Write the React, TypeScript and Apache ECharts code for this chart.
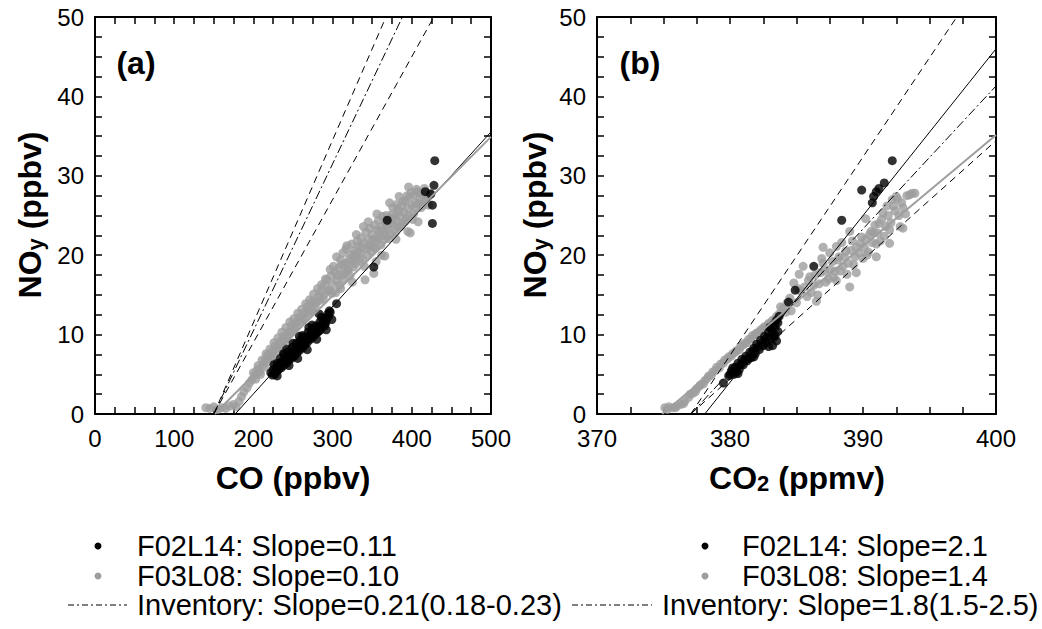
import { useEffect, useRef } from 'react';
import * as echarts from 'echarts';

// ---------- data ----------
// Panel (a): NOy (ppbv) vs CO (ppbv)
const grayA: [number, number][] = [
  [140, 0.8], [145, 0.7], [150, 0.9], [155, 0.6], [160, 0.8], [165, 0.7], [170, 1.0], [175, 1.2], [178, 0.9],
  [182, 1.6], [185, 2.2], [188, 2.8], [192, 3.3], [195, 3.9], [198, 4.3], [202, 4.9], [205, 5.6], [208, 5.3],
  [212, 6.2], [215, 6.8], [218, 7.4], [222, 7.1], [225, 8.0], [228, 8.6], [232, 8.4], [235, 9.2], [238, 9.8],
  [242, 9.5], [245, 10.4], [248, 11.1], [252, 10.8], [255, 11.6], [258, 12.2], [262, 11.9], [265, 12.8],
  [268, 13.5], [272, 12.9], [275, 14.2], [278, 13.6], [282, 14.8], [285, 15.4], [288, 14.5], [290, 16.2],
  [293, 16.9], [296, 15.6], [298, 17.4], [300, 16.3], [303, 17.9], [305, 16.8], [308, 18.4], [310, 19.4],
  [312, 17.5], [315, 18.9], [318, 19.0], [320, 18.2], [323, 20.1], [325, 19.3], [328, 20.6], [330, 19.8],
  [333, 21.2], [335, 20.3], [339, 23.6], [340, 21.5], [341, 16.9], [343, 20.8], [345, 22.0], [348, 21.3],
  [350, 22.6], [352, 17.7], [352, 21.0], [355, 22.1], [357, 23.2], [360, 22.4], [362, 23.6], [365, 22.0],
  [367, 24.1], [370, 23.3], [372, 24.6], [373, 22.7], [375, 25.1], [377, 23.8], [380, 24.5], [382, 25.8],
  [383, 23.5], [385, 24.9], [387, 26.2], [388, 24.0], [390, 25.4], [392, 26.8], [393, 24.6], [395, 25.9],
  [397, 27.3], [398, 22.8], [400, 26.3], [402, 25.2], [403, 27.6], [405, 26.6], [407, 28.0], [410, 27.1],
  [412, 26.0], [415, 27.5], [418, 26.8], [423, 27.8],
  [200, 5.2], [203, 4.4], [206, 6.1], [209, 5.0], [211, 6.8], [214, 5.9], [216, 7.6], [219, 6.6], [221, 8.2],
  [224, 7.3], [226, 9.0], [229, 7.9], [231, 9.6], [234, 8.6], [236, 10.3], [239, 9.2], [241, 10.9], [244, 9.9],
  [246, 11.6], [249, 10.4], [251, 12.0], [254, 11.0], [256, 12.7], [259, 11.6], [261, 13.2], [264, 12.1],
  [266, 13.9], [269, 12.6], [271, 14.4], [274, 13.2], [276, 15.1], [279, 14.0], [281, 15.8], [284, 14.3],
  [286, 16.3], [289, 15.0], [291, 17.0], [294, 15.5], [297, 18.2], [299, 15.2],
  [301, 18.6], [304, 15.3], [306, 17.4], [309, 16.2], [311, 18.8], [313, 20.3], [314, 16.9], [316, 17.8],
  [317, 20.8], [319, 18.1], [321, 19.5], [322, 17.4], [324, 21.4], [326, 18.5], [327, 20.0], [329, 18.9],
  [331, 21.8], [332, 20.4], [334, 19.3], [336, 22.2], [337, 21.0], [338, 19.5], [342, 22.9], [344, 20.0],
  [346, 21.1], [347, 23.4], [349, 20.5], [351, 22.0], [353, 23.8], [354, 20.9], [356, 21.7], [358, 24.4],
  [359, 22.9], [361, 21.3], [363, 24.9], [364, 23.1], [366, 22.5], [368, 25.0], [369, 23.8], [371, 22.1],
  [374, 24.0], [376, 26.0], [378, 24.8], [379, 22.9], [381, 26.4], [384, 25.5], [386, 23.6], [389, 26.8],
  [391, 24.2], [394, 27.5], [396, 25.0], [399, 27.9], [401, 24.5], [404, 26.0], [406, 28.3], [409, 26.5],
  [411, 27.8], [414, 26.3], [416, 28.4], [420, 27.2], [421, 26.3],
  [305, 19.8], [318, 21.2], [330, 22.6], [345, 24.2], [356, 25.2], [362, 20.0], [372, 26.6], [384, 27.4],
  [396, 28.6], [408, 24.2], [395, 23.0], [380, 22.0], [366, 19.9], [340, 18.6], [325, 16.6], [310, 15.8],
  [355, 19.2],
];
const blackA: [number, number][] = [
  [222, 5.2], [225, 5.6], [227, 5.0], [229, 5.9], [231, 5.5], [233, 6.3], [235, 5.8], [236, 6.6], [238, 6.1],
  [240, 6.9], [242, 6.4], [243, 7.2], [245, 6.8], [247, 7.5], [248, 7.0], [250, 7.8], [252, 7.3], [253, 8.1],
  [255, 7.7], [257, 8.4], [258, 8.0], [260, 8.8], [262, 8.3], [263, 9.1], [265, 8.7], [267, 9.4], [268, 9.0],
  [270, 9.8], [272, 9.4], [273, 10.2], [275, 9.7], [277, 10.5], [278, 10.0], [280, 10.8], [282, 10.4],
  [283, 11.0], [285, 10.6], [288, 11.5], [290, 11.1], [292, 11.8], [295, 12.3],
  [224, 4.9], [226, 6.2], [228, 5.3], [230, 6.4], [232, 5.7], [234, 7.0], [237, 6.5], [239, 7.5], [241, 6.7],
  [244, 7.9], [246, 7.2], [249, 8.4], [251, 7.6], [254, 8.9], [256, 8.2], [259, 9.3], [261, 8.6], [264, 9.7],
  [266, 9.1], [269, 10.3], [271, 9.5], [274, 10.7], [276, 10.1], [279, 11.1], [281, 10.3], [284, 11.6],
  [286, 11.0], [289, 12.0], [291, 11.4], [294, 12.6], [297, 12.8], [299, 11.9],
  [230, 4.8], [238, 7.6], [245, 6.1], [250, 8.9], [256, 7.0], [262, 9.9], [268, 8.1], [274, 11.2], [280, 9.4],
  [286, 12.2], [292, 10.6], [296, 13.0], [242, 8.2], [258, 9.8], [270, 10.9], [283, 12.6],
  [305, 13.9], [352, 18.5], [369, 24.4], [417, 28.0], [424, 27.7], [429, 31.9], [428, 28.8], [426, 26.3],
  [426, 24.0],
];
// fits: slope and x-intercept
const fitSlopesA = [0.11, 0.10];
const fitX0A = [177, 151];
const invSlopesA = [0.21, 0.18, 0.23];
const invX0A = 150;

// Panel (b): NOy (ppbv) vs CO2 (ppmv)
const grayB: [number, number][] = [
  [375.1, 0.8], [375.4, 0.9], [375.7, 0.8], [376.0, 1.0], [376.3, 1.2], [376.6, 1.6], [376.9, 2.1], [377.2, 2.6],
  [377.5, 3.2], [377.8, 3.7], [378.1, 4.2], [378.4, 4.8], [378.7, 5.3], [379.0, 5.9], [379.3, 6.3], [379.6, 6.8],
  [379.9, 7.2], [380.2, 7.6], [380.5, 8.0], [380.8, 8.5], [381.1, 8.9], [381.4, 9.4], [381.7, 9.9], [382.0, 10.2],
  [382.3, 10.6], [382.6, 11.0], [382.9, 11.4], [383.2, 11.8], [383.5, 12.3], [383.8, 13.5], [384.2, 12.8],
  [384.5, 14.6], [384.8, 16.5], [385.0, 14.0], [385.3, 15.5], [385.5, 18.6], [385.8, 14.8], [386.0, 17.3],
  [386.3, 16.2], [386.6, 15.0], [386.8, 17.8], [387.0, 19.0], [387.2, 16.6], [387.5, 18.2], [387.8, 17.2],
  [388.0, 21.1], [388.1, 19.4], [388.3, 18.0], [388.6, 19.8], [388.8, 17.6], [389.0, 16.0], [389.1, 20.6],
  [389.3, 18.8], [389.5, 21.0], [389.8, 21.5], [390.0, 19.6], [390.2, 22.0], [390.4, 20.4], [390.6, 23.0],
  [390.8, 22.8], [391.0, 21.4], [391.2, 24.0], [391.5, 25.3], [391.6, 22.4], [391.8, 26.2], [392.0, 23.2],
  [392.2, 27.0], [392.5, 27.4], [392.7, 25.0], [392.8, 23.6], [393.0, 26.0], [393.5, 27.6], [393.9, 27.8],
  [375.3, 0.6], [375.9, 0.8], [376.5, 1.3], [377.0, 2.5], [377.4, 2.8], [377.7, 3.5], [378.0, 3.8], [378.3, 4.5],
  [378.6, 4.9], [378.9, 5.5], [379.2, 5.8], [379.5, 6.4], [379.8, 6.9], [380.1, 7.3], [380.4, 7.8], [380.7, 8.1],
  [381.0, 8.7], [381.3, 9.0], [381.6, 9.5], [381.9, 10.0], [382.2, 10.3], [382.5, 10.8], [382.8, 11.1],
  [383.1, 11.5], [383.4, 11.9], [383.7, 12.6], [384.0, 13.3], [384.3, 14.0], [384.6, 13.0], [385.1, 15.8],
  [385.6, 16.0], [385.9, 16.8], [386.1, 15.3], [386.4, 17.5], [386.7, 16.4], [387.1, 18.0], [387.4, 17.0],
  [387.7, 19.2], [387.9, 18.0], [388.2, 19.8], [388.5, 18.6], [388.7, 20.5], [388.9, 19.0], [389.2, 21.8],
  [389.4, 19.8], [389.7, 20.3], [389.9, 22.3], [390.1, 21.0], [390.3, 20.0], [390.5, 22.6], [390.7, 21.6],
  [390.9, 23.8], [391.1, 22.8], [391.3, 21.8], [391.4, 24.5], [391.7, 23.6], [391.9, 25.0], [392.1, 24.1],
  [392.3, 26.2], [392.4, 25.6], [392.6, 27.1], [392.9, 26.6], [393.2, 25.2], [393.3, 27.5], [393.7, 27.8],
  [388.4, 21.6], [387.5, 20.3], [386.9, 19.6],
  [386.5, 14.2], [388.0, 16.8], [389.5, 17.8], [391.0, 19.8], [392.0, 21.5], [393.0, 23.4], [387.0, 21.0],
  [389.0, 23.0], [390.2, 24.6], [385.2, 17.6],
];
const blackB: [number, number][] = [
  [379.5, 3.9], [379.9, 4.8], [380.1, 5.4], [380.3, 5.0], [380.4, 5.9], [380.6, 6.4], [380.7, 5.6], [380.9, 6.9],
  [381.0, 6.2], [381.2, 7.3], [381.3, 6.7], [381.5, 7.8], [381.6, 7.1], [381.8, 8.3], [381.9, 7.6], [382.0, 8.8],
  [382.2, 8.1], [382.3, 9.3], [382.5, 8.6], [382.6, 9.8], [382.7, 9.0], [382.9, 10.3], [383.0, 9.4], [383.1, 10.8],
  [383.2, 8.6], [383.3, 11.3], [383.4, 9.9], [383.5, 11.8], [383.6, 10.4], [383.7, 12.3],
  [380.0, 5.0], [380.2, 5.8], [380.5, 5.3], [380.8, 6.2], [381.1, 6.8], [381.4, 7.0], [381.7, 7.9], [382.1, 8.4],
  [382.4, 8.9], [382.8, 9.6], [383.0, 10.9], [383.2, 10.2], [383.4, 11.0], [383.5, 9.2], [383.6, 11.5],
  [382.9, 8.5], [383.3, 9.7], [381.8, 7.2], [380.6, 5.1],
  [384.4, 14.1], [384.9, 15.6], [386.3, 18.6], [388.4, 24.4], [389.9, 28.2], [390.7, 26.6], [390.8, 27.4],
  [391.0, 28.0], [391.2, 28.4], [391.6, 29.1], [392.2, 31.9],
];
const fitSlopesB = [2.1, 1.4];
const fitX0B = [378.1, 374.9];
const invSlopesB = [1.8, 1.5, 2.5];
const invX0B = 377.05;

// axes
const xRangeA = [0, 500];
const xRangeB = [370, 400];
const yRange = [0, 50];

const legendA = ['F02L14: Slope=0.11', 'F03L08: Slope=0.10', 'Inventory: Slope=0.21(0.18-0.23)'];
const legendB = ['F02L14: Slope=2.1', 'F03L08: Slope=1.4', 'Inventory: Slope=1.8(1.5-2.5)'];

const GRAY = '#9e9e9e';
const FONT = '"Liberation Sans", Arial, Helvetica, sans-serif';

function lineEnds(slope: number, x0: number, xMax: number, yMax: number): [number, number][] {
  const xEnd = Math.min(xMax, x0 + yMax / slope);
  return [[x0, 0], [xEnd, slope * (xEnd - x0)]];
}

function makeAxis(gridIndex: number, min: number, max: number, interval: number, position: string, labels: boolean, labelMargin: number) {
  return {
    type: 'value',
    gridIndex,
    min,
    max,
    interval,
    position,
    axisLine: { show: true, onZero: false, lineStyle: { color: '#000', width: 2 } },
    axisTick: { show: true, inside: true, length: 7, lineStyle: { color: '#000', width: 1.5 } },
    minorTick: { show: true, splitNumber: 4, length: 7, lineStyle: { color: '#000', width: 1.5 } },
    splitLine: { show: false },
    minorSplitLine: { show: false },
    axisLabel: {
      show: labels,
      fontSize: 24,
      color: '#000',
      fontFamily: FONT,
      margin: labelMargin,
      showMinLabel: true,
      showMaxLabel: true,
    },
  };
}

function lineSeries(xi: number, yi: number, data: [number, number][], color: string, width: number, type: any) {
  return {
    type: 'line',
    xAxisIndex: xi,
    yAxisIndex: yi,
    data,
    showSymbol: false,
    symbol: 'none',
    silent: true,
    z: 5,
    lineStyle: { color, width, type },
  };
}

const DASH = [7, 5];
const DASHDOT = [9, 3, 2, 3];

export default function App() {
  const ref = useRef<HTMLDivElement>(null);

  useEffect(() => {
    if (!ref.current) return;
    const chart = echarts.init(ref.current, null, { renderer: 'svg' });

    const series: any[] = [];
    const panels = [
      { xi: 0, yi: 0, gray: grayA, black: blackA, fs: fitSlopesA, fx: fitX0A, is: invSlopesA, ix: invX0A, xr: xRangeA },
      { xi: 2, yi: 2, gray: grayB, black: blackB, fs: fitSlopesB, fx: fitX0B, is: invSlopesB, ix: invX0B, xr: xRangeB },
    ];
    panels.forEach((p) => {
      series.push({
        type: 'scatter', xAxisIndex: p.xi, yAxisIndex: p.yi, data: p.gray, symbolSize: 9,
        itemStyle: { color: GRAY }, z: 2, silent: true,
      });
      series.push({
        type: 'scatter', xAxisIndex: p.xi, yAxisIndex: p.yi, data: p.black, symbolSize: 9,
        itemStyle: { color: '#000' }, z: 3, silent: true,
      });
      series.push(lineSeries(p.xi, p.yi, lineEnds(p.fs[0], p.fx[0], p.xr[1], yRange[1]), '#000', 1, 'solid'));
      series.push(lineSeries(p.xi, p.yi, lineEnds(p.fs[1], p.fx[1], p.xr[1], yRange[1]), GRAY, 2, 'solid'));
      series.push(lineSeries(p.xi, p.yi, lineEnds(p.is[0], p.ix, p.xr[1], yRange[1]), '#000', 1, DASHDOT));
      series.push(lineSeries(p.xi, p.yi, lineEnds(p.is[1], p.ix, p.xr[1], yRange[1]), '#000', 1, DASH));
      series.push(lineSeries(p.xi, p.yi, lineEnds(p.is[2], p.ix, p.xr[1], yRange[1]), '#000', 1, DASH));
    });

    const titleStyle = { fontSize: 32, fontWeight: 'bold', fontFamily: FONT, fill: '#000', lineHeight: 32, verticalAlign: 'bottom' };
    const subStyle = { fontSize: 22, fontWeight: 'bold', fontFamily: FONT, fill: '#000', lineHeight: 4, verticalAlign: 'bottom' };

    const axisTitle = (x: number, y: number, text: string, rot: number) => ({
      type: 'text',
      x,
      y,
      rotation: rot,
      style: {
        text,
        align: 'center',
        verticalAlign: 'middle',
        rich: { m: titleStyle, s: subStyle },
      },
    });

    const rows = [546, 576, 605];
    const legendCol = (dotX: number, textX: number, invTextX: number, lineX0: number, lineX1: number, texts: string[]) => {
      const els: any[] = [
        { type: 'circle', shape: { cx: dotX, cy: rows[0], r: 3.5 }, style: { fill: '#000' } },
        { type: 'circle', shape: { cx: dotX, cy: rows[1], r: 3.5 }, style: { fill: GRAY } },
        {
          type: 'line', shape: { x1: lineX0, y1: rows[2], x2: lineX1, y2: rows[2] },
          style: { stroke: '#000', lineWidth: 1, lineDash: [6, 3, 2, 3] },
        },
      ];
      texts.forEach((t, i) => {
        els.push({
          type: 'text', x: i === 2 ? invTextX : textX, y: rows[i],
          style: { text: t, fontSize: 29, fontFamily: FONT, fill: '#000', align: 'left', verticalAlign: 'middle' },
        });
      });
      return els;
    };

    const option: any = {
      animation: false,
      backgroundColor: '#fff',
      grid: [
        { left: 95, top: 17, width: 396, height: 397 },
        { left: 597, top: 17, width: 399, height: 397 },
      ],
      xAxis: [
        makeAxis(0, xRangeA[0], xRangeA[1], 100, 'bottom', true, 12),
        makeAxis(0, xRangeA[0], xRangeA[1], 100, 'top', false, 8),
        makeAxis(1, xRangeB[0], xRangeB[1], 10, 'bottom', true, 12),
        makeAxis(1, xRangeB[0], xRangeB[1], 10, 'top', false, 8),
      ],
      yAxis: [
        makeAxis(0, yRange[0], yRange[1], 10, 'left', true, 11),
        makeAxis(0, yRange[0], yRange[1], 10, 'right', false, 8),
        makeAxis(1, yRange[0], yRange[1], 10, 'left', true, 11),
        makeAxis(1, yRange[0], yRange[1], 10, 'right', false, 8),
      ],
      series,
      graphic: [
        axisTitle(293, 478, '{m|CO (ppbv)}', 0),
        axisTitle(797, 478, '{m|CO}{s|2}{m| (ppmv)}', 0),
        axisTitle(30, 215, '{m|NO}{s|y}{m| (ppbv)}', Math.PI / 2),
        axisTitle(535, 215, '{m|NO}{s|y}{m| (ppbv)}', Math.PI / 2),
        {
          type: 'text', x: 136, y: 63,
          style: { text: '(a)', fontSize: 32, fontWeight: 'bold', fontFamily: FONT, fill: '#000', align: 'center', verticalAlign: 'middle' },
        },
        {
          type: 'text', x: 640, y: 63,
          style: { text: '(b)', fontSize: 32, fontWeight: 'bold', fontFamily: FONT, fill: '#000', align: 'center', verticalAlign: 'middle' },
        },
        ...legendCol(98, 137, 137, 68, 127, legendA),
        ...legendCol(705, 742, 662, 572, 652, legendB),
      ],
    };

    chart.setOption(option);
    return () => chart.dispose();
  }, []);

  return (
    <div
      ref={ref}
      style={{ position: 'fixed', left: 0, top: 0, width: 1042, height: 629, background: '#fff' }}
    />
  );
}
